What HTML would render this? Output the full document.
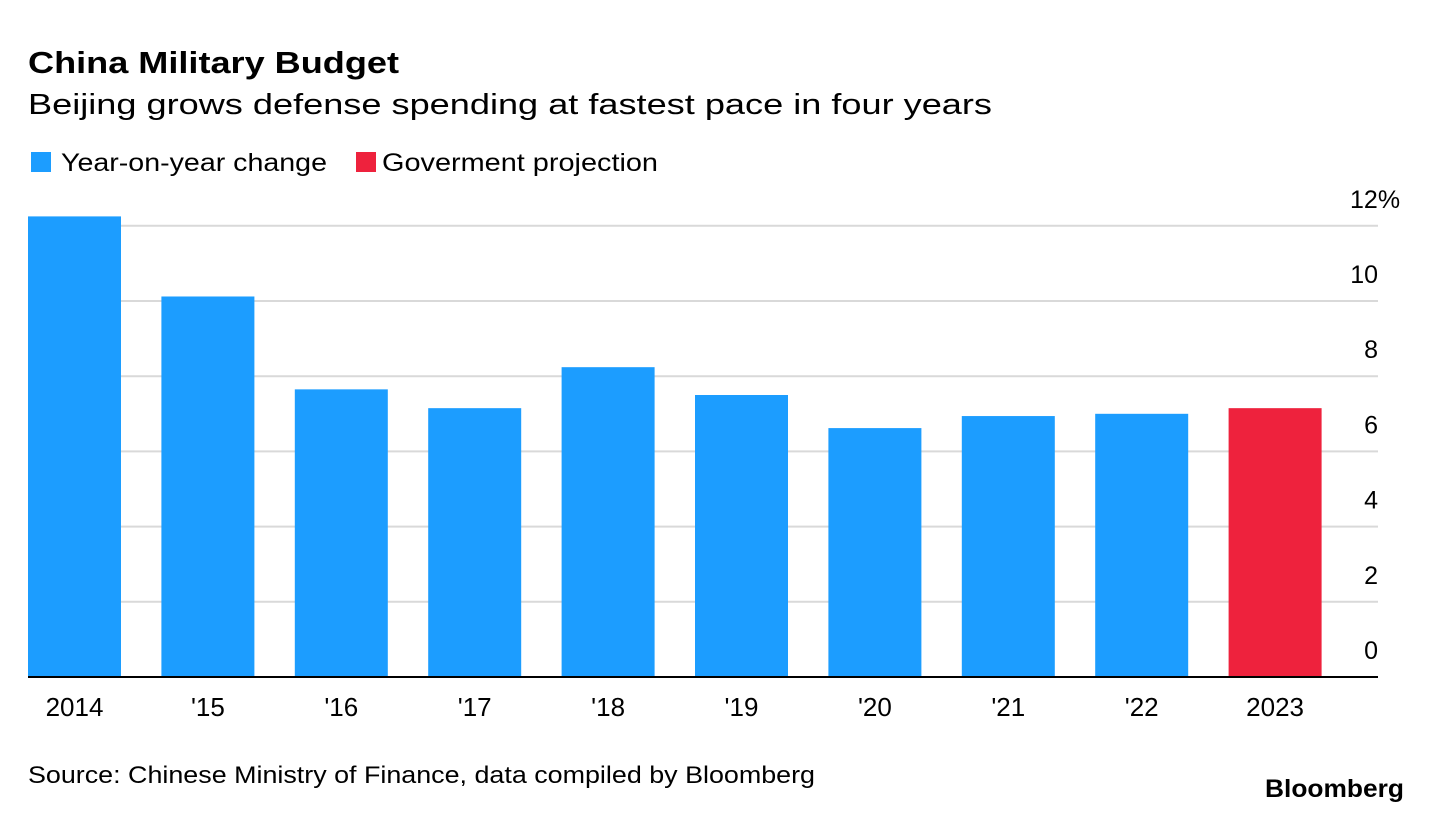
<!DOCTYPE html>
<html><head><meta charset="utf-8"><style>
body{margin:0;background:#fff;font-family:"Liberation Sans",Arial,sans-serif;}
#wrap{position:relative;width:1432px;height:814px;overflow:hidden;}
</style></head><body>
<div id="wrap">
<svg id="chart" width="1432" height="814">
<text x="28" y="73" font-size="31" font-weight="bold" fill="#000" textLength="371" lengthAdjust="spacingAndGlyphs">China Military Budget</text>
<text x="28" y="114" font-size="29" fill="#000" textLength="964" lengthAdjust="spacingAndGlyphs">Beijing grows defense spending at fastest pace in four years</text>
<g>
<rect x="31" y="152" width="20" height="20" fill="#1c9dff"/>
<text x="61" y="171" font-size="25" fill="#000" textLength="266" lengthAdjust="spacingAndGlyphs">Year-on-year change</text>
<rect x="356" y="152" width="20" height="20" fill="#ee223d"/>
<text x="382" y="171" font-size="25" fill="#000" textLength="276" lengthAdjust="spacingAndGlyphs">Goverment projection</text>
</g>
<g id="grid"></g>
<g id="bars"></g>
<g id="xlabels"></g>
<line x1="28" x2="1378" y1="677" y2="677" stroke="#000" stroke-width="2"/>
<text x="28" y="783" font-size="24" fill="#000" textLength="787" lengthAdjust="spacingAndGlyphs">Source: Chinese Ministry of Finance, data compiled by Bloomberg</text>
<text x="1265" y="797" font-size="25" font-weight="bold" fill="#000" textLength="139" lengthAdjust="spacingAndGlyphs">Bloomberg</text>
</svg>
</div>
<script>
const categories=["2014","'15","'16","'17","'18","'19","'20","'21","'22","2023"];
const values=[12.25,10.12,7.65,7.15,8.24,7.5,6.62,6.94,7.0,7.15];
const projection=[false,false,false,false,false,false,false,false,false,true];
const yTicks=[0,2,4,6,8,10,12];
const NS="http://www.w3.org/2000/svg";
const y0=677,pxPerUnit=37.6;
function yScale(v){return y0-v*pxPerUnit;}
const x0=28,step=133.4,bw=93;
function xScale(i){return x0+i*step;}
const grid=document.getElementById('grid');
yTicks.forEach(t=>{
  if(t>0){
    const l=document.createElementNS(NS,'line');
    l.setAttribute('x1',28);l.setAttribute('x2',1378);
    l.setAttribute('y1',yScale(t));l.setAttribute('y2',yScale(t));
    l.setAttribute('stroke','#d9d9d9');l.setAttribute('stroke-width','2');
    
    
    grid.appendChild(l);
  }
  const tx=document.createElementNS(NS,'text');
  tx.setAttribute('x',1378);tx.setAttribute('y',yScale(t)-18);
  tx.setAttribute('font-size','25');tx.setAttribute('text-anchor','end');
  tx.textContent=String(t);
  if(t===12){const s=document.createElementNS(NS,'tspan');s.textContent='%';tx.appendChild(s);tx.setAttribute('text-anchor','start');tx.setAttribute('x',1350);}
  
  
  grid.appendChild(tx);
});
const bars=document.getElementById('bars'),xl=document.getElementById('xlabels');
categories.forEach((c,i)=>{
  const r=document.createElementNS(NS,'rect');
  r.setAttribute('x',xScale(i));r.setAttribute('width',bw);
  r.setAttribute('y',yScale(values[i]));r.setAttribute('height',y0-yScale(values[i]));
  r.setAttribute('fill',projection[i]?'#ee223d':'#1c9dff');
  
  
  bars.appendChild(r);
  const t=document.createElementNS(NS,'text');
  t.setAttribute('x',xScale(i)+bw/2);t.setAttribute('y',716);
  t.setAttribute('font-size','26');t.setAttribute('text-anchor','middle');
  t.textContent=c;
  
  
  xl.appendChild(t);
});
</script>
</body></html>
